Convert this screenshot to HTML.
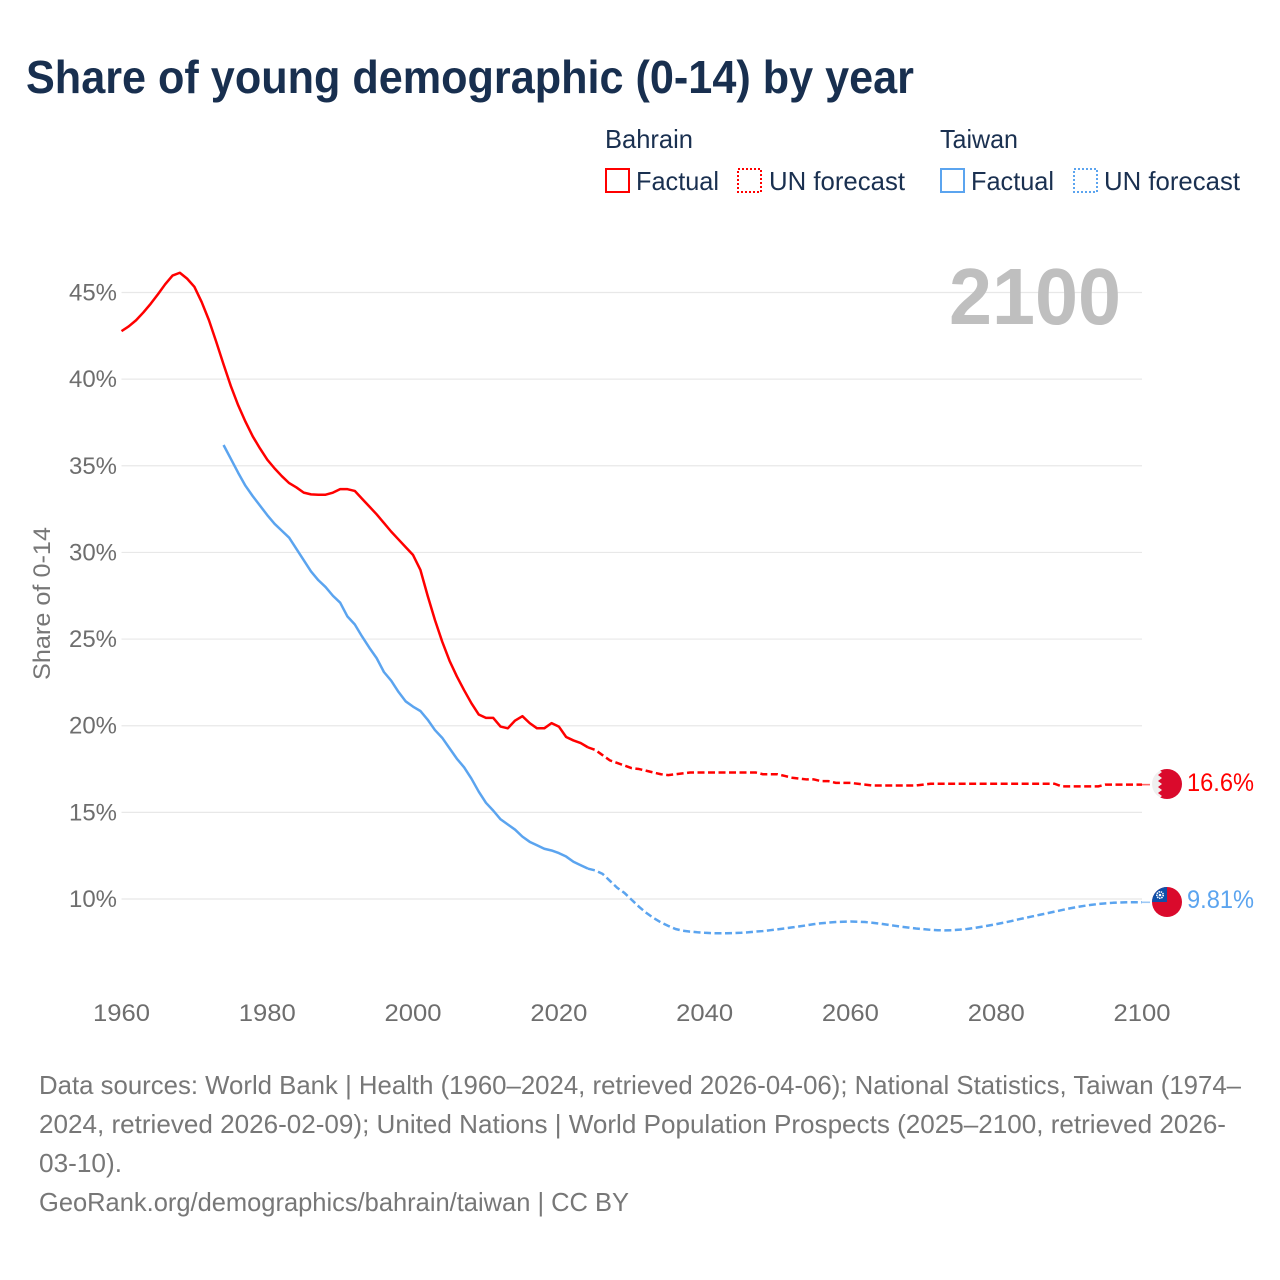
<!DOCTYPE html>
<html lang="en">
<head>
<meta charset="utf-8">
<title>Share of young demographic (0-14) by year</title>
<style>
html,body{margin:0;padding:0;background:#fff;width:1280px;height:1280px;overflow:hidden}
svg{display:block;font-family:"Liberation Sans",Arial,sans-serif}
</style>
</head>
<body>
<svg id="chart" xmlns="http://www.w3.org/2000/svg" width="1280" height="1280" viewBox="0 0 1280 1280">
  <defs>
    <clipPath id="clip-bahrain"><circle cx="1167" cy="784" r="15"/></clipPath>
    <clipPath id="clip-taiwan"><circle cx="1167" cy="902" r="15"/></clipPath>
  </defs>
  <rect x="0" y="0" width="1280" height="1280" fill="#fff"/>
  <text x="26" y="93" font-size="46" font-weight="700" fill="#182f4f" textLength="888" lengthAdjust="spacingAndGlyphs">Share of young demographic (0-14) by year</text>

  <g font-size="26" fill="#1a3050">
    <text x="605" y="148" textLength="88" lengthAdjust="spacingAndGlyphs">Bahrain</text>
    <rect x="606" y="169" width="23" height="23" fill="none" stroke="#ff0000" stroke-width="2"/>
    <text x="636" y="190" textLength="83" lengthAdjust="spacingAndGlyphs">Factual</text>
    <rect x="738" y="169" width="23" height="23" fill="none" stroke="#ff0000" stroke-width="2" stroke-dasharray="2 2"/>
    <text x="769" y="190" textLength="136" lengthAdjust="spacingAndGlyphs">UN forecast</text>
    <text x="940" y="148" textLength="78" lengthAdjust="spacingAndGlyphs">Taiwan</text>
    <rect x="941" y="169" width="23" height="23" fill="none" stroke="#5ba4ef" stroke-width="2"/>
    <text x="971" y="190" textLength="83" lengthAdjust="spacingAndGlyphs">Factual</text>
    <rect x="1074" y="169" width="23" height="23" fill="none" stroke="#5ba4ef" stroke-width="2" stroke-dasharray="2 2"/>
    <text x="1104" y="190" textLength="136" lengthAdjust="spacingAndGlyphs">UN forecast</text>
  </g>

  <g id="grid"></g>
  <g id="y-ticks"></g>
  <g id="x-ticks"></g>
  <text transform="translate(50,680) rotate(-90)" font-size="24" fill="#777" textLength="153" lengthAdjust="spacingAndGlyphs">Share of 0-14</text>
  <text x="949" y="324" font-size="80" font-weight="700" fill="#bfbfbf" textLength="172" lengthAdjust="spacingAndGlyphs">2100</text>

  <g id="series"></g>

  <g clip-path="url(#clip-bahrain)">
    <rect x="1152" y="769" width="30" height="30" fill="#efefef"/>
    <polygon fill="#da0a2c" points="1182,769 1158,769 1162,772 1158,775 1162,778 1158,781 1162,784 1158,787 1162,790 1158,793 1162,796 1158,799 1182,799"/>
  </g>
  <g clip-path="url(#clip-taiwan)">
    <rect x="1152" y="887" width="30" height="30" fill="#da0a2c"/>
    <rect x="1152" y="887" width="15" height="15" fill="#0f4fa8"/>
    <circle cx="1160" cy="895" r="3.2" fill="none" stroke="#fff" stroke-width="1.6" stroke-dasharray="1.4 0.8"/>
    <circle cx="1160" cy="895" r="1.3" fill="#fff"/>
  </g>

  <text id="value-bahrain" x="1187" y="791" font-size="25" fill="#ff0000" textLength="67" lengthAdjust="spacingAndGlyphs"></text>
  <text id="value-taiwan" x="1187" y="908" font-size="25" fill="#5ba4ef" textLength="67" lengthAdjust="spacingAndGlyphs"></text>

  <g font-size="26" fill="#777">
    <text x="39" y="1094" textLength="1202" lengthAdjust="spacingAndGlyphs">Data sources: World Bank | Health (1960–2024, retrieved 2026-04-06); National Statistics, Taiwan (1974–</text>
    <text x="39" y="1133" textLength="1187" lengthAdjust="spacingAndGlyphs">2024, retrieved 2026-02-09); United Nations | World Population Prospects (2025–2100, retrieved 2026-</text>
    <text x="39" y="1172" textLength="83" lengthAdjust="spacingAndGlyphs">03-10).</text>
    <text x="39" y="1211" textLength="590" lengthAdjust="spacingAndGlyphs">GeoRank.org/demographics/bahrain/taiwan | CC BY</text>
  </g>
</svg>
<script>
const yTickValues = [10, 15, 20, 25, 30, 35, 40, 45];
const xTickValues = [1960, 1980, 2000, 2020, 2040, 2060, 2080, 2100];
const bahrainFactualStart = 1960;
const bahrainFactual = [42.77,43.05,43.4,43.85,44.35,44.9,45.48,45.98,46.14,45.8,45.33,44.45,43.4,42.15,40.85,39.6,38.5,37.55,36.7,36.0,35.35,34.85,34.4,34.0,33.75,33.45,33.35,33.33,33.33,33.45,33.65,33.65,33.55,33.1,32.65,32.2,31.7,31.2,30.75,30.3,29.85,29.0,27.5,26.1,24.85,23.75,22.85,22.05,21.3,20.65,20.45,20.45,19.95,19.85,20.3,20.55,20.15,19.85,19.85,20.15,19.95,19.35,19.15,19.0,18.75];
const bahrainForecastStart = 2024;
const bahrainForecast = [18.75,18.6,18.3,18.0,17.85,17.7,17.55,17.5,17.4,17.3,17.2,17.15,17.2,17.25,17.3,17.3,17.3,17.3,17.3,17.3,17.3,17.3,17.3,17.3,17.2,17.2,17.2,17.1,17.0,16.95,16.9,16.9,16.8,16.8,16.7,16.7,16.7,16.65,16.6,16.55,16.55,16.55,16.55,16.55,16.55,16.55,16.6,16.65,16.65,16.65,16.65,16.65,16.65,16.65,16.65,16.65,16.65,16.65,16.65,16.65,16.65,16.65,16.65,16.65,16.65,16.5,16.5,16.5,16.5,16.5,16.5,16.6,16.6,16.6,16.6,16.6,16.6];
const taiwanFactualStart = 1974;
const taiwanFactual = [36.2,35.4,34.6,33.85,33.25,32.7,32.15,31.65,31.25,30.85,30.2,29.55,28.9,28.4,28.0,27.5,27.1,26.3,25.85,25.15,24.5,23.9,23.1,22.6,21.95,21.4,21.1,20.85,20.35,19.75,19.3,18.7,18.1,17.6,16.95,16.2,15.55,15.1,14.6,14.3,14.0,13.6,13.3,13.1,12.9,12.8,12.65,12.45,12.15,11.95,11.75];
const taiwanForecastStart = 2024;
const taiwanForecast = [11.75,11.65,11.45,11.05,10.65,10.35,9.95,9.55,9.2,8.9,8.65,8.45,8.27,8.17,8.12,8.08,8.05,8.03,8.02,8.02,8.03,8.05,8.08,8.12,8.15,8.2,8.25,8.3,8.36,8.42,8.48,8.55,8.6,8.64,8.67,8.69,8.7,8.69,8.67,8.63,8.58,8.52,8.46,8.4,8.35,8.3,8.26,8.22,8.2,8.19,8.2,8.23,8.27,8.33,8.4,8.47,8.55,8.63,8.72,8.82,8.91,9.0,9.09,9.18,9.27,9.36,9.45,9.53,9.6,9.66,9.71,9.75,9.78,9.8,9.81,9.81,9.81];
const bahrainLatestLabel = "16.6%";
const taiwanLatestLabel = "9.81%";

const NS = "http://www.w3.org/2000/svg";
const xScale = function (year) { return 121.5 + (year - 1960) * (1142 - 121.5) / 140; };
const yScale = function (v) { return 899 - (v - 10) * (899 - 292.5) / 35; };

function linePoints(start, values) {
  return values.map(function (v, i) {
    return xScale(start + i).toFixed(2) + "," + yScale(v).toFixed(2);
  }).join(" ");
}

const gridGroup = document.getElementById("grid");
const yTickGroup = document.getElementById("y-ticks");
const xTickGroup = document.getElementById("x-ticks");
const seriesGroup = document.getElementById("series");

yTickValues.forEach(function (v) {
  const line = document.createElementNS(NS, "line");
  
  
  line.setAttribute("x1", xScale(1960));
  line.setAttribute("x2", xScale(2100));
  line.setAttribute("y1", yScale(v));
  line.setAttribute("y2", yScale(v));
  line.setAttribute("stroke", "#e8e8e8");
  line.setAttribute("stroke-width", "1.2");
  gridGroup.appendChild(line);

  const label = document.createElementNS(NS, "text");
  
  
  label.setAttribute("x", 117);
  label.setAttribute("y", yScale(v) + 8);
  label.setAttribute("text-anchor", "end");
  label.setAttribute("font-size", "24");
  label.setAttribute("fill", "#6e6e6e");
  label.setAttribute("textLength", "48");
  label.setAttribute("lengthAdjust", "spacingAndGlyphs");
  label.textContent = v + "%";
  yTickGroup.appendChild(label);
});

xTickValues.forEach(function (year) {
  const label = document.createElementNS(NS, "text");
  
  
  label.setAttribute("x", xScale(year));
  label.setAttribute("y", 1021);
  label.setAttribute("text-anchor", "middle");
  label.setAttribute("font-size", "24");
  label.setAttribute("fill", "#6e6e6e");
  label.setAttribute("textLength", "57");
  label.setAttribute("lengthAdjust", "spacingAndGlyphs");
  label.textContent = year;
  xTickGroup.appendChild(label);
});

function drawLine(name, start, values, color, dashed) {
  const line = document.createElementNS(NS, "polyline");
  
  
  line.setAttribute("points", linePoints(start, values));
  line.setAttribute("fill", "none");
  line.setAttribute("stroke", color);
  line.setAttribute("stroke-width", "2.5");
  line.setAttribute("stroke-linejoin", "round");
  if (dashed) {
    line.setAttribute("stroke-dasharray", "7 3.5");
  }
  seriesGroup.appendChild(line);
}

drawLine("bahrain-factual-line", bahrainFactualStart, bahrainFactual, "#ff0000", false);
drawLine("bahrain-forecast-line", bahrainForecastStart, bahrainForecast, "#ff0000", true);
drawLine("taiwan-factual-line", taiwanFactualStart, taiwanFactual, "#5ba4ef", false);
drawLine("taiwan-forecast-line", taiwanForecastStart, taiwanForecast, "#5ba4ef", true);

function drawConnector(name, value, color) {
  const line = document.createElementNS(NS, "line");
  
  
  line.setAttribute("x1", xScale(2100));
  line.setAttribute("x2", xScale(2100) + 8);
  line.setAttribute("y1", yScale(value));
  line.setAttribute("y2", yScale(value));
  line.setAttribute("stroke", color);
  line.setAttribute("stroke-width", "1.6");
  line.setAttribute("stroke-opacity", "0.6");
  seriesGroup.appendChild(line);
}

drawConnector("bahrain-end-connector", bahrainForecast[bahrainForecast.length - 1], "#ff0000");
drawConnector("taiwan-end-connector", taiwanForecast[taiwanForecast.length - 1], "#5ba4ef");

document.getElementById("value-bahrain").textContent = bahrainLatestLabel;
document.getElementById("value-taiwan").textContent = taiwanLatestLabel;
</script>
</body>
</html>
